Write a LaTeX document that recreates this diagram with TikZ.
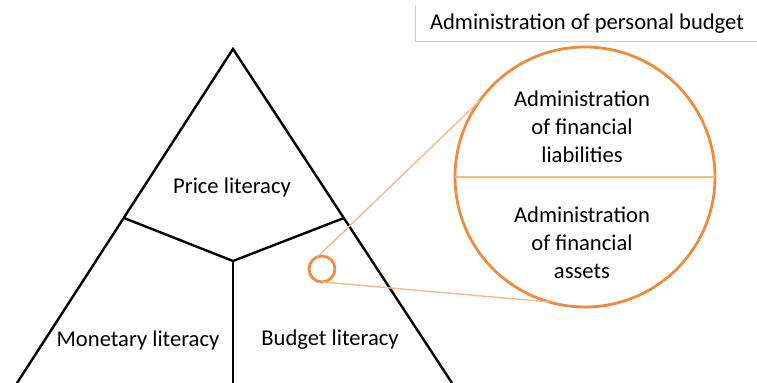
\documentclass[tikz,border=0pt]{standalone}
\usepackage{fontspec}
\setmainfont{Carlito}
\definecolor{orng}{RGB}{237,140,62}
\definecolor{lorng}{RGB}{244,185,140}
\definecolor{lgray}{RGB}{205,205,205}
\begin{document}
\begin{tikzpicture}[x=0.5pt,y=-0.5pt,
  tri/.style={line width=1.2pt,black},
  lbl/.style={font=\fontsize{11.3}{14}\selectfont,text=black,inner sep=0pt,align=center},
  ring/.style={circle,draw=orng,line width=1.4pt,inner sep=0pt,outer sep=0pt},
  zoomline/.style={draw=lorng,line width=0.7pt}]
\useasboundingbox (0,0) rectangle (757,383);
% triangle
\coordinate (apex) at (233,49);
\coordinate (bl) at (17,383);
\coordinate (br) at (452,383);
\coordinate (jl) at (124,218);
\coordinate (jr) at (344,218);
\coordinate (ctr) at (233,261);
\coordinate (bm) at (233,383);
\draw[tri] (bl) -- (apex) -- (br);
\draw[tri] (jl) -- (ctr) -- (jr);
\draw[tri] (ctr) -- (bm);
\node[lbl] (price) at (232,187) {Price literacy};
\node[lbl] (monetary) at (138,340) {Monetary literacy};
\node[lbl] (budget) at (330,340) {Budget literacy};
% header label
\coordinate (hb1) at (415,5);
\coordinate (hb2) at (415,42);
\coordinate (hb3) at (757,42);
\draw[lgray,line width=0.5pt] (hb1) -- (hb2) -- (hb3);
\node[lbl] (header) at (587,24) {Administration of personal budget};
% circles
\node[ring,minimum size=13pt] (small) at (322,269) {};
\node[ring,minimum size=130pt] (big) at (585,177) {};
\draw[lorng,line width=0.9pt] (big.west) -- (big.east);
\draw[zoomline] (small.110) -- (big.144);
\draw[zoomline] (small.272) -- (big.254);
\node[lbl] (liab) at (582,127) {Administration\\of financial\\liabilities};
\node[lbl] (assets) at (582,243) {Administration\\of financial\\assets};
\end{tikzpicture}
\end{document}
